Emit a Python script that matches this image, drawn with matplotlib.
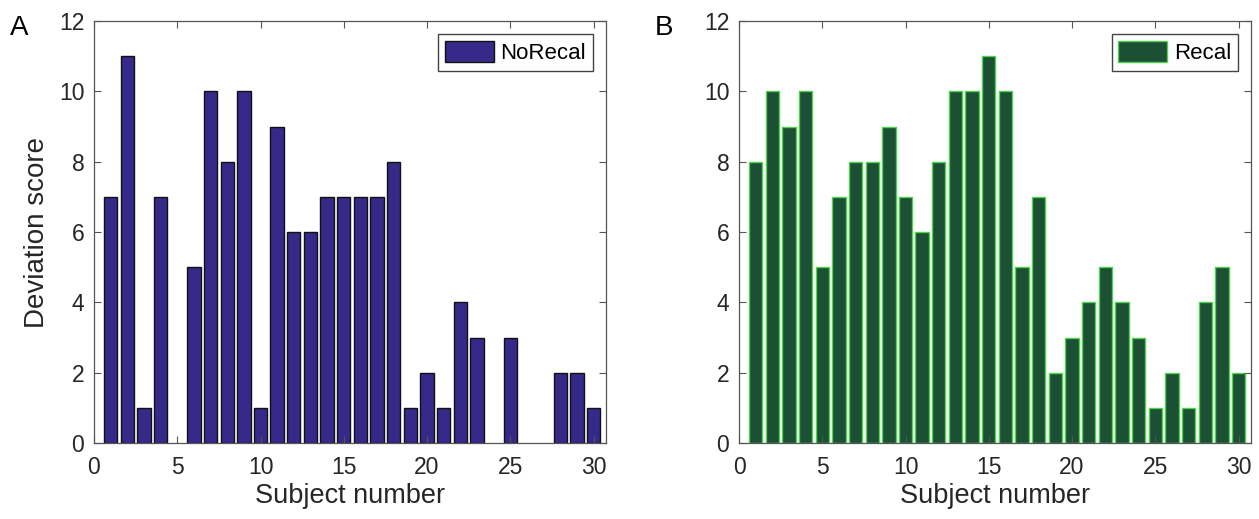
import matplotlib
matplotlib.use("Agg")
from matplotlib import pyplot as plt
import numpy as np

plt.rcParams["font.family"] = ["Liberation Sans", "DejaVu Sans"]

subjects = np.arange(1, 31)
norecal = [7, 11, 1, 7, 0, 5, 10, 8, 10, 1, 9, 6, 6, 7, 7,
           7, 7, 8, 1, 2, 1, 4, 3, 0, 3, 0, 0, 2, 2, 1]
recal = [8, 10, 9, 10, 5, 7, 8, 8, 9, 7, 6, 8, 10, 10, 11,
         10, 5, 7, 2, 3, 4, 5, 4, 3, 1, 2, 1, 4, 5, 2]

W, H = 1259, 519
fig = plt.figure(figsize=(W / 100, H / 100), dpi=100)

panels = [
    # (left px, values, fill, edge, legend label, panel letter)
    (94, norecal, "#35298a", "#111111", "NoRecal", "A"),
    (739, recal, "#1b5034", "#4fd34f", "Recal", "B"),
]

for left_px, vals, fill, edge, name, letter in panels:
    ax = fig.add_axes([left_px / W, 1 - 443 / H, 512 / W, 422 / H])
    bars = ax.bar(subjects, vals, width=0.8, color=fill, edgecolor=edge,
                  linewidth=1.0, label=name)
    # empty bars leave no outline on the baseline
    for b in bars:
        if b.get_height() == 0:
            b.set_visible(False)
    ax.set_xlim(0, 30.75)
    ax.set_ylim(0, 12)
    ax.set_xticks(range(0, 31, 5))
    ax.set_yticks(range(0, 13, 2))
    ax.tick_params(direction="in", top=True, right=True, length=5,
                   width=0.8, color="#555555", labelsize=16.5,
                   labelcolor="#262626")
    ax.tick_params(axis="x", pad=9)
    ax.tick_params(axis="y", pad=7)
    for s in ax.spines.values():
        s.set_color("#555555")
        s.set_linewidth(0.9)
    ax.set_xlabel("Subject number", fontsize=19.5, color="#262626", labelpad=3)
    if letter == "A":
        ax.set_ylabel("Deviation score", fontsize=20, color="#262626",
                      labelpad=6)
    leg = ax.legend(loc="upper right", fontsize=16, fancybox=False,
                    framealpha=1, edgecolor="#444444", handlelength=2.2,
                    handleheight=1.1, handletextpad=0.3, borderpad=0.3,
                    borderaxespad=0.6)
    leg.get_frame().set_linewidth(1.0)
    fig.text((left_px - 84) / W, 1 - 35 / H, letter, fontsize=20,
             color="black", ha="left", va="baseline")

fig.savefig("out.png", dpi=100)
